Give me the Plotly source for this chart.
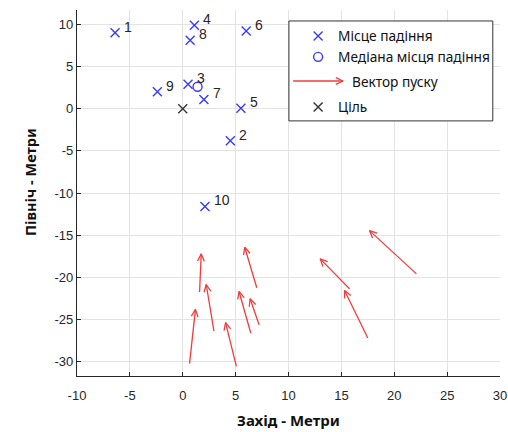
import numpy as np
import plotly.graph_objects as go

# Impact points (east, north in metres) with their drop numbers
impact_labels = ["1", "2", "3", "4", "5", "6", "7", "8", "9", "10"]
impact_x = [-6.4, 4.5, 0.5, 1.1, 5.5, 6.0, 2.0, 0.7, -2.4, 2.1]
impact_y = [9.0, -3.8, 2.9, 9.9, 0.05, 9.2, 1.1, 8.1, 2.0, -11.6]

# Median impact point and target
median_x = [1.4]
median_y = [2.6]
target_x = [0.0]
target_y = [0.0]

# Launch vectors: tail positions and components
launch_x = [0.64, 1.59, 2.95, 5.07, 6.43, 7.22, 7.0, 22.1, 15.77, 17.5]
launch_y = [-30.24, -21.75, -26.37, -30.56, -26.6, -25.62, -21.24, -19.59, -21.36, -27.2]
launch_u = [0.56, 0.16, -0.73, -1.02, -1.11, -0.85, -1.14, -4.44, -2.77, -2.2]
launch_v = [6.44, 4.53, 5.52, 5.18, 4.92, 3.08, 4.81, 5.13, 3.55, 5.64]

x_ticks = list(range(-10, 31, 5))
y_ticks = list(range(-30, 11, 5))
x_tick_text = [str(v) for v in x_ticks]
y_tick_text = [str(v) for v in y_ticks]
x_range = [-10, 30]
y_range = [-31.7, 11.7]

W, H = 508, 432
M = dict(l=77, r=8, t=10, b=56)
plot_w = W - M["l"] - M["r"]
plot_h = H - M["t"] - M["b"]

BLUE = "#3a3aff"
RED = "#f03c3c"
DARK = "#262626"
TARGET = "#333333"


def arrow_path(x0, y0, x1, y1, sx, sy, length=8.0, half_angle=25.0):
    """Line from (x0, y0) to (x1, y1) plus an open V head, sized in pixels."""
    dx, dy = (x1 - x0) * sx, (y1 - y0) * sy
    n = np.hypot(dx, dy)
    ux, uy = -dx / n, -dy / n
    xs, ys = [x0, x1, None], [y0, y1, None]
    a = np.radians(half_angle)
    arms = []
    for s in (1, -1):
        c, si = np.cos(s * a), np.sin(s * a)
        bx, by = ux * c - uy * si, ux * si + uy * c
        arms.append((x1 + bx * length / sx, y1 + by * length / sy))
    xs += [arms[0][0], x1, arms[1][0], None]
    ys += [arms[0][1], y1, arms[1][1], None]
    return xs, ys


def marker(symbol, color):
    return dict(symbol=symbol, size=9, color=color,
                line=dict(color=color, width=1.4))


fig = go.Figure()

# Launch vectors
sx = plot_w / (x_range[1] - x_range[0])
sy = plot_h / (y_range[1] - y_range[0])
ax_all, ay_all = [], []
for x0, y0, u, v in zip(launch_x, launch_y, launch_u, launch_v):
    px, py = arrow_path(x0, y0, x0 + u, y0 + v, sx, sy)
    ax_all += px
    ay_all += py
fig.add_trace(go.Scatter(x=ax_all, y=ay_all, mode="lines",
                         line=dict(color=RED, width=1.3), hoverinfo="skip"))

# Impact points, median impact point, target
fig.add_trace(go.Scatter(x=impact_x, y=impact_y, mode="markers",
                         marker=marker("x-thin-open", BLUE)))
fig.add_trace(go.Scatter(x=median_x, y=median_y, mode="markers",
                         marker=marker("circle-open", BLUE)))
fig.add_trace(go.Scatter(x=target_x, y=target_y, mode="markers",
                         marker=marker("x-thin-open", TARGET)))

# Drop numbers next to each impact point
for lx, ly, lab in zip(impact_x, impact_y, impact_labels):
    fig.add_annotation(x=lx, y=ly, text=lab, showarrow=False,
                       xanchor="left", yanchor="middle", xshift=7, yshift=6,
                       font=dict(family="Liberation Sans", size=14, color=DARK))

# Legend box drawn on an overlay axis spanning the plot area
box = dict(x0=0.501, x1=0.983, y0=0.697, y1=0.970)
fig.add_trace(go.Scatter(
    x=[box["x0"], box["x1"], box["x1"], box["x0"], box["x0"]],
    y=[box["y0"], box["y0"], box["y1"], box["y1"], box["y0"]],
    mode="lines", fill="toself", fillcolor="white",
    line=dict(color="#333333", width=1), xaxis="x2", yaxis="y2",
    hoverinfo="skip"))

rows_y = [0.929, 0.872, 0.806, 0.735]
mark_x = 0.570
fig.add_trace(go.Scatter(x=[mark_x], y=[rows_y[0]], mode="markers",
                         marker=marker("x-thin-open", BLUE),
                         xaxis="x2", yaxis="y2"))
fig.add_trace(go.Scatter(x=[mark_x], y=[rows_y[1]], mode="markers",
                         marker=marker("circle-open", BLUE),
                         xaxis="x2", yaxis="y2"))
lx_, ly_ = arrow_path(0.511, rows_y[2], 0.629, rows_y[2], plot_w, plot_h)
fig.add_trace(go.Scatter(x=lx_, y=ly_, mode="lines",
                         line=dict(color=RED, width=1.3),
                         xaxis="x2", yaxis="y2", hoverinfo="skip"))
fig.add_trace(go.Scatter(x=[mark_x], y=[rows_y[3]], mode="markers",
                         marker=marker("x-thin-open", TARGET),
                         xaxis="x2", yaxis="y2"))

legend_texts = [("Місце падіння", 0.612), ("Медіана місця падіння", 0.612),
                ("Вектор пуску", 0.645), ("Ціль", 0.612)]
for (txt, tx), ty in zip(legend_texts, rows_y):
    fig.add_annotation(x=tx, y=ty, xref="paper", yref="paper", text=txt,
                       showarrow=False, xanchor="left", yanchor="middle",
                       font=dict(family="Noto Sans", size=13.7, color="#111111"))

# Axis titles
fig.add_annotation(x=0.5, y=-0.150, xref="paper", yref="paper",
                   text="<b>Захід - Метри</b>", showarrow=False,
                   xanchor="center", yanchor="bottom", borderpad=0,
                   font=dict(family="Noto Sans", size=15, color="#111111"))
fig.add_annotation(x=-0.111, y=0.53, xref="paper", yref="paper",
                   text="<b>Північ - Метри</b>", showarrow=False, textangle=-90,
                   xanchor="center", yanchor="middle",
                   font=dict(family="Noto Sans", size=14.5, color="#111111"))

axis_common = dict(showgrid=True, gridcolor="#e3e3e3", gridwidth=1,
                   zeroline=False, showline=True, linecolor=DARK, linewidth=1.2,
                   ticks="inside", ticklen=4, tickcolor=DARK, automargin=False,
                   tickfont=dict(family="Liberation Sans", size=13, color=DARK))

fig.update_layout(
    width=W, height=H, margin=M, showlegend=False,
    paper_bgcolor="white", plot_bgcolor="white",
    xaxis=dict(range=x_range, tickvals=x_ticks, ticktext=x_tick_text,
               ticklabelstandoff=7, **axis_common),
    yaxis=dict(range=y_range, tickvals=y_ticks, ticktext=y_tick_text,
               **axis_common),
    xaxis2=dict(overlaying="x", range=[0, 1], visible=False, anchor="y2"),
    yaxis2=dict(overlaying="y", range=[0, 1], visible=False, anchor="x2"),
)

fig.write_html("out.html")
